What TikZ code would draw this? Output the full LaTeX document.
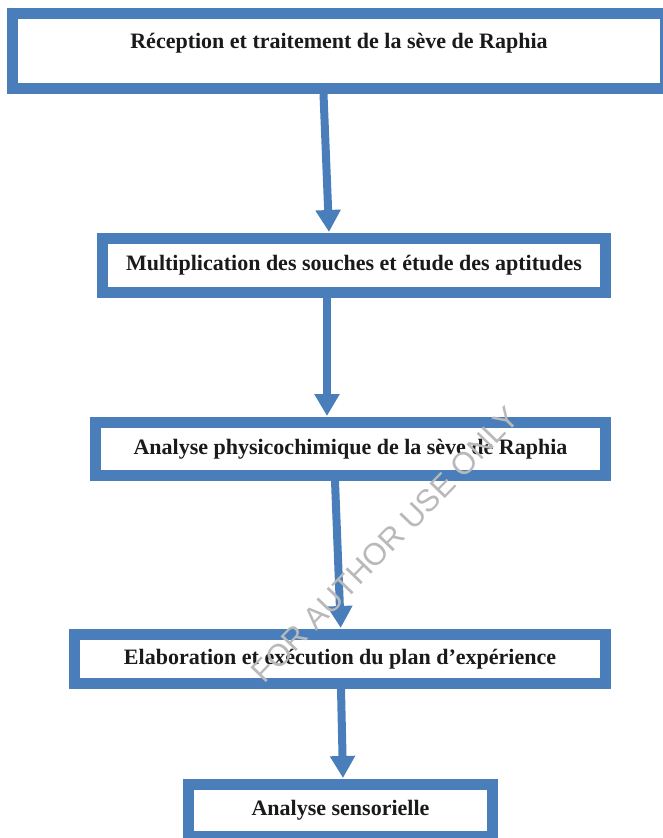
\documentclass[tikz,border=0pt]{standalone}
\usepackage{fontspec}
\setmainfont{Liberation Serif}
\newfontfamily\wmfont{Liberation Sans}
\usetikzlibrary{arrows.meta}
\definecolor{boxblue}{RGB}{74,126,187}
\definecolor{txtcol}{RGB}{26,26,26}
\definecolor{wmgray}{RGB}{185,185,185}
\begin{document}
\begin{tikzpicture}[x=1pt,y=-1pt,
  stepbox/.style={draw=boxblue, line width=11pt, fill=white, inner sep=0pt, outer sep=5.5pt,
    font=\fontsize{22}{26}\selectfont\bfseries, text=txtcol},
  boxtext/.style={font=\fontsize{22}{26}\selectfont\bfseries, text=txtcol, inner sep=0pt},
  flow/.style={draw=boxblue, line width=8pt, -{Triangle[width=24pt,length=22pt]}},
  wm/.style={font=\wmfont\fontsize{31}{34}\selectfont, text=wmgray, inner sep=0pt}]
\useasboundingbox (0,0) rectangle (663,838);
\clip (0,0) rectangle (663,838);
% boxes
\node[stepbox, minimum width=653pt, minimum height=75pt] (b1) at (339,51) {};
\node[boxtext] (t1) at (339,43) {Réception et traitement de la sève de Raphia};
\node[stepbox, minimum width=503pt, minimum height=54pt] (b2) at (354,265.5)
  {Multiplication des souches et étude des aptitudes};
\node[stepbox, minimum width=510pt, minimum height=53pt] (b3) at (350.5,449)
  {Analyse physicochimique de la sève de Raphia};
\node[stepbox, minimum width=531pt, minimum height=49pt] (b4) at (340,659)
  {Elaboration et exécution du plan d’expérience};
\node[stepbox, minimum width=304pt, minimum height=52pt] (b5) at (340.5,810.5)
  {Analyse sensorielle};
% connectors
\draw[flow] ([xshift=-15.5pt]b1.south) -- ([xshift=-25pt,yshift=1pt]b2.north);
\draw[flow] ([xshift=-27pt]b2.south) -- ([xshift=-23.5pt,yshift=1pt]b3.north);
\draw[flow] ([xshift=-15.5pt]b3.south) -- ([xshift=0.7pt,yshift=1pt]b4.north);
\draw[flow] ([xshift=1pt]b4.south) -- ([xshift=2.5pt,yshift=1pt]b5.north);
% watermark
\node[wm, rotate=46] (wm) at (385,545) {FOR AUTHOR USE ONLY};
\end{tikzpicture}
\end{document}
